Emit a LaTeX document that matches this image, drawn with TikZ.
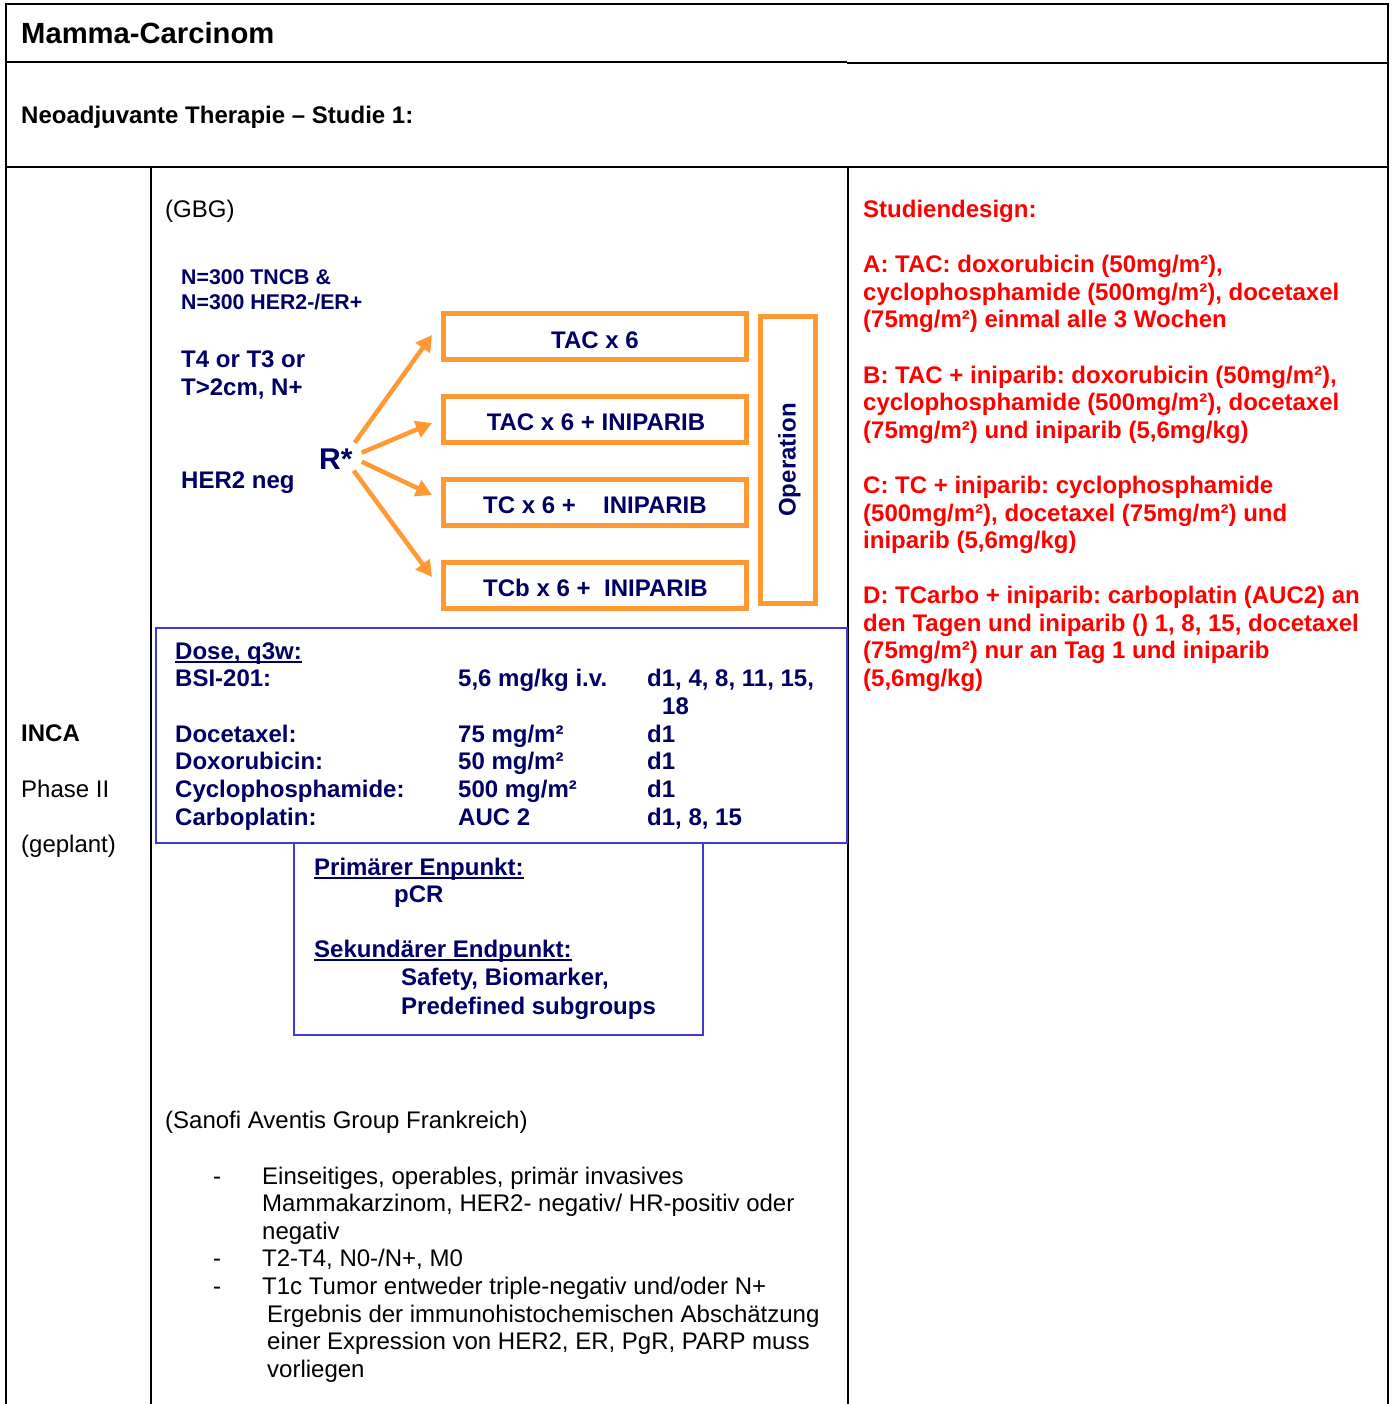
\documentclass[tikz,border=0pt]{standalone}
\usepackage{fontspec}
\setmainfont{Liberation Sans}
\usetikzlibrary{arrows.meta}
\definecolor{navy}{RGB}{0,0,102}
\definecolor{orng}{RGB}{255,153,51}
\definecolor{bbox}{RGB}{60,60,210}
\definecolor{redt}{RGB}{255,0,0}
\newcommand\ulx[1]{\setbox0=\hbox{#1}\rlap{\rule[-3pt]{\wd0}{1.8pt}}\box0}
\frenchspacing
\begin{document}
\begin{tikzpicture}[x=1pt,y=-1pt,
 t/.style={anchor=base west, inner sep=0pt, font=\fontsize{24}{27.6}\selectfont},
 tb/.style={anchor=base west, inner sep=0pt, font=\fontsize{24}{27.6}\selectfont\bfseries},
 nv/.style={tb, text=navy},
 rd/.style={tb, text=redt},
 obox/.style={draw=orng, line width=5pt, inner sep=0pt, minimum width=303pt, minimum height=46pt},
 bbx/.style={draw=bbox, line width=2pt, inner sep=0pt, anchor=north west},
 arr/.style={draw=orng, line width=4.5pt, -{Triangle[length=16pt,width=17pt]}},
 frame/.style={line width=2pt}
]
\fill[white] (0,0) rectangle (1393,1404);
\useasboundingbox (0,0) rectangle (1393,1404);
% table frame
\draw[frame] (6,1404) -- (6,4) -- (1388,4) -- (1388,1404);
\draw[line width=1.5pt] (6,62) -- (847,62);
\draw[line width=2.5pt] (847,63) -- (1388,63);
\draw[line width=2.5pt] (6,167) -- (1388,167);
\draw[frame] (151,167) -- (151,1404);
\draw[frame] (848,167) -- (848,1404);
% headers
\node[tb, font=\fontsize{29.2}{33}\selectfont\bfseries] (title) at (21,44) {Mamma-Carcinom};
\node[tb] (sub) at (21,123.6) {Neoadjuvante Therapie – Studie 1:};
% left column
\node[tb] (inca) at (21,741.6) {INCA};
\node[t] (phase) at (21,797.6) {Phase II};
\node[t] (gepl) at (21,852.6) {(geplant)};
% middle column
\node[t] (gbg) at (165,217.6) {(GBG)};
\node[nv, font=\fontsize{21.3}{25}\selectfont\bfseries] (n1) at (181,284.5) {N=300 TNCB \&};
\node[nv, font=\fontsize{21.3}{25}\selectfont\bfseries] (n2) at (181,309.5) {N=300 HER2-/ER+};
\node[nv] (t4) at (181,367.6) {T4 or T3 or};
\node[nv] (t2) at (181,395.6) {T>2cm, N+};
\node[nv] (her) at (181,488.6) {HER2 neg};
\node[nv, font=\fontsize{30}{34}\selectfont\bfseries] (R) at (319,469) {R*};
% orange boxes
\node[obox] (b1) at (595,336.5) {};
\node[obox] (b2) at (595,419.5) {};
\node[obox] (b3) at (595,502.5) {};
\node[obox] (b4) at (595,585) {};
\node[obox, minimum width=55pt, minimum height=287pt] (op) at (788,460) {};
\node[nv, anchor=base] (l1) at (595,348.6) {TAC x 6};
\node[nv, anchor=base] (l2) at (596,430.6) {TAC x 6 + INIPARIB};
\node[nv] (l3) at (483,513.6) {TC x 6 +\hspace{20.6pt} INIPARIB};
\node[nv] (l4) at (483,596.6) {TCb x 6 +\hspace{7pt} INIPARIB};
\node[nv, anchor=base, rotate=90] (opl) at (795.6,460) {Operation};
% arrows
\draw[arr] ([shift={(2,-16)}]R.east) -- ([shift={(-9,-1.5)}]b1.west);
\draw[arr] ([shift={(9,-6)}]R.east) -- ([shift={(-9,3.5)}]b2.west);
\draw[arr] ([shift={(9,3)}]R.east) -- ([shift={(-9,-7.5)}]b3.west);
\draw[arr] ([shift={(1,12)}]R.east) -- ([shift={(-9,-8)}]b4.west);
% dose box
\node[bbx, minimum width=691pt, minimum height=215pt] (dose) at (155,627) {};
\node[nv] (d0) at (175,659.6) {\ulx{Dose, q3w:}};
\node[nv] (d1a) at (175,686.6) {BSI-201:};
\node[nv] (d1b) at (458,686.6) {5,6 mg/kg i.v.};
\node[nv] (d1c) at (647,686.6) {d1, 4, 8, 11, 15,};
\node[nv] (d1d) at (662,714.6) {18};
\node[nv] (d2a) at (175,742.6) {Docetaxel:};
\node[nv] (d2b) at (458,742.6) {75 mg/m²};
\node[nv] (d2c) at (647,742.6) {d1};
\node[nv] (d3a) at (175,769.6) {Doxorubicin:};
\node[nv] (d3b) at (458,769.6) {50 mg/m²};
\node[nv] (d3c) at (647,769.6) {d1};
\node[nv] (d4a) at (175,797.6) {Cyclophosphamide:};
\node[nv] (d4b) at (458,797.6) {500 mg/m²};
\node[nv] (d4c) at (647,797.6) {d1};
\node[nv] (d5a) at (175,825.6) {Carboplatin:};
\node[nv] (d5b) at (458,825.6) {AUC 2};
\node[nv] (d5c) at (647,825.6) {d1, 8, 15};
% endpoint box
\node[bbx, minimum width=409pt, minimum height=192pt] (ep) at (293,842) {};
\node[nv] (e1) at (314,875.6) {\ulx{Primärer Enpunkt:}};
\node[nv] (e2) at (394,902.6) {pCR};
\node[nv] (e3) at (314,957.6) {\ulx{Sekundärer Endpunkt:}};
\node[nv] (e4) at (401,985.6) {Safety, Biomarker,};
\node[nv] (e5) at (401,1014.6) {Predefined subgroups};
% bottom text
\node[t] (san) at (165,1128.6) {(Sanofi Aventis Group Frankreich)};
\node[t] (k1) at (213,1184.6) {-};
\node[t] (c1) at (262,1184.6) {Einseitiges, operables, primär invasives};
\node[t] (c2) at (262,1211.6) {Mammakarzinom, HER2- negativ/ HR-positiv oder};
\node[t] (c3) at (262,1239.6) {negativ};
\node[t] (k2) at (213,1266.6) {-};
\node[t] (c4) at (262,1266.6) {T2-T4, N0-/N+, M0};
\node[t] (k3) at (213,1294.6) {-};
\node[t] (c5) at (262,1294.6) {T1c Tumor entweder triple-negativ und/oder N+};
\node[t] (c6) at (267,1322.6) {Ergebnis der immunohistochemischen Abschätzung};
\node[t] (c7) at (267,1349.6) {einer Expression von HER2, ER, PgR, PARP muss};
\node[t] (c8) at (267,1377.6) {vorliegen};
% right column (red)
\node[rd] (r0) at (863,217.6) {Studiendesign:};
\node[rd] (ra1) at (863,272.6) {A: TAC: doxorubicin (50mg/m²),};
\node[rd] (ra2) at (863,300.6) {cyclophosphamide (500mg/m²), docetaxel};
\node[rd] (ra3) at (863,327.6) {(75mg/m²) einmal alle 3 Wochen};
\node[rd] (rb1) at (863,383.6) {B: TAC + iniparib: doxorubicin (50mg/m²),};
\node[rd] (rb2) at (863,410.6) {cyclophosphamide (500mg/m²), docetaxel};
\node[rd] (rb3) at (863,438.6) {(75mg/m²) und iniparib (5,6mg/kg)};
\node[rd] (rc1) at (863,493.6) {C: TC + iniparib: cyclophosphamide};
\node[rd] (rc2) at (863,521.6) {(500mg/m²), docetaxel (75mg/m²) und};
\node[rd] (rc3) at (863,548.6) {iniparib (5,6mg/kg)};
\node[rd] (rd1) at (863,603.6) {D: TCarbo + iniparib: carboplatin (AUC2) an};
\node[rd] (rd2) at (863,631.6) {den Tagen und iniparib () 1, 8, 15, docetaxel};
\node[rd] (rd3) at (863,658.6) {(75mg/m²) nur an Tag 1 und iniparib};
\node[rd] (rd4) at (863,686.6) {(5,6mg/kg)};
\end{tikzpicture}
\end{document}
